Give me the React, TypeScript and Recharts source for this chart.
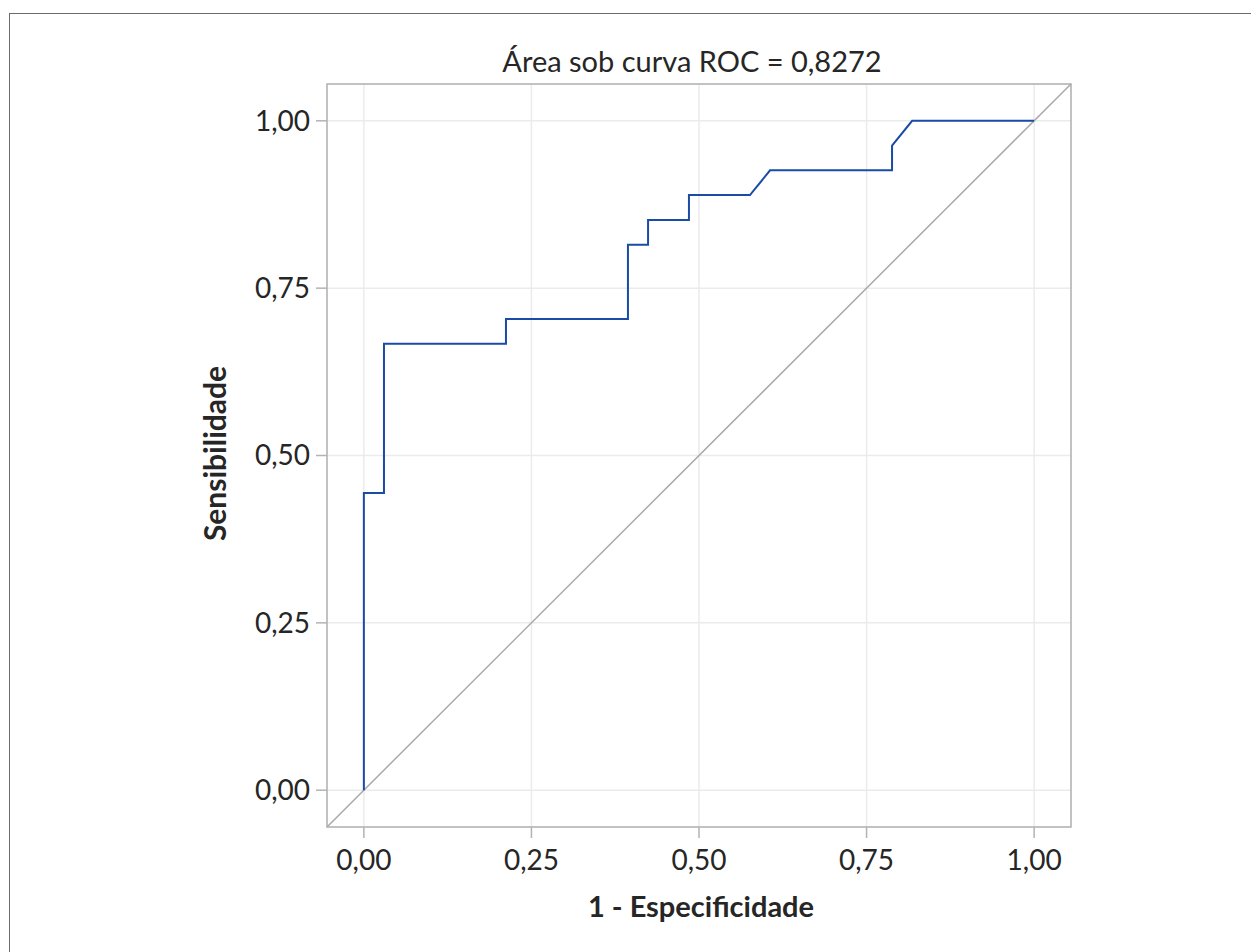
import React from "react";
import {
  LineChart, Line, XAxis, YAxis, CartesianGrid,
  ReferenceLine, ReferenceArea, Label
} from "recharts";

// ROC curve: 1 - specificity vs sensitivity
const fpr = [0, 0, 0.030, 0.030, 0.212, 0.212, 0.394, 0.394, 0.424, 0.424, 0.485, 0.485, 0.576, 0.606, 0.788, 0.788, 0.818, 1];
const tpr = [0, 0.444, 0.444, 0.667, 0.667, 0.704, 0.704, 0.815, 0.815, 0.852, 0.852, 0.889, 0.889, 0.926, 0.926, 0.963, 1, 1];

const axisTicks = [0, 0.25, 0.5, 0.75, 1];
const axisMin = -0.055;
const axisMax = 1.055;
const chanceLine = [
  { x: axisMin, y: axisMin },
  { x: axisMax, y: axisMax },
];

const title = "Área sob curva ROC = 0,8272";
const xTitle = "1 - Especificidade";
const yTitle = "Sensibilidade";

const rocData = fpr.map((x, i) => ({ x, y: tpr[i] }));

const FONT = "Lato, 'Open Sans', sans-serif";
const TEXT = "#262626";
const FRAME = "#b3b3b3";

const fmt = (v: number) => v.toFixed(2).replace(".", ",");

function XTitle(props: any) {
  const vb = props.viewBox || { x: 327, y: 827, width: 744, height: 90 };
  return (
    <text x={vb.x + vb.width / 2 + 2} y={vb.y + vb.height} textAnchor="middle"
      fontFamily={FONT} fontSize={29} fontWeight={700} fill={TEXT}>
      {xTitle}
    </text>
  );
}

function YTitle(props: any) {
  const vb = props.viewBox || { x: 227, y: 84, width: 100, height: 743 };
  const x = vb.x - 1;
  const y = vb.y + vb.height / 2 - 2;
  return (
    <text x={x} y={y} transform={`rotate(-90, ${x}, ${y})`} textAnchor="middle"
      fontFamily={FONT} fontSize={30} fontWeight={700} fill={TEXT}>
      {yTitle}
    </text>
  );
}

export default function App() {
  return (
    <div style={{ position: "fixed", left: 0, top: 0, width: 1251, height: 952, overflow: "hidden", background: "#fff" }}>
      <div style={{
        position: "absolute", left: 9, top: 13, width: 1400, height: 1100,
        borderLeft: "1px solid #6b6b6b", borderTop: "1px solid #6b6b6b",
      }} />
      <div style={{
        position: "absolute", left: 292, top: 46, width: 800, textAlign: "center",
        fontFamily: FONT, fontSize: 29, lineHeight: "29px", color: TEXT,
      }}>
        {title}
      </div>
      <div style={{ position: "absolute", left: 0, top: 0 }}>
        <LineChart width={1251} height={952} data={rocData}
          margin={{ top: 84, right: 180, bottom: 35, left: 227 }}>
          <CartesianGrid stroke="#ebebeb" strokeWidth={1.5} />
          <ReferenceArea x1={axisMin} x2={axisMax} y1={axisMin} y2={axisMax}
            fill="#fff" fillOpacity={0} stroke={FRAME} strokeWidth={1.5} />
          <XAxis type="number" dataKey="x" domain={[axisMin, axisMax]} ticks={axisTicks}
            allowDataOverflow tickFormatter={fmt} axisLine={false}
            tickLine={{ stroke: FRAME, strokeWidth: 1.5 }} tickSize={11} tickMargin={12}
            height={90} tick={{ fill: TEXT, fontSize: 28, fontFamily: FONT }}>
            <Label content={XTitle} />
          </XAxis>
          <YAxis type="number" dataKey="y" domain={[axisMin, axisMax]} ticks={axisTicks}
            allowDataOverflow tickFormatter={fmt} axisLine={false}
            tickLine={{ stroke: FRAME, strokeWidth: 1.5 }} tickSize={11} tickMargin={6}
            width={100} tick={{ fill: TEXT, fontSize: 28, fontFamily: FONT }}>
            <Label content={YTitle} />
          </YAxis>
          <ReferenceLine segment={chanceLine} stroke="#aaaaaa" strokeWidth={1.5} />
          <Line type="linear" dataKey="y" stroke="#1a4ba6" strokeWidth={2}
            dot={false} activeDot={false} isAnimationActive={false} />
        </LineChart>
      </div>
    </div>
  );
}
